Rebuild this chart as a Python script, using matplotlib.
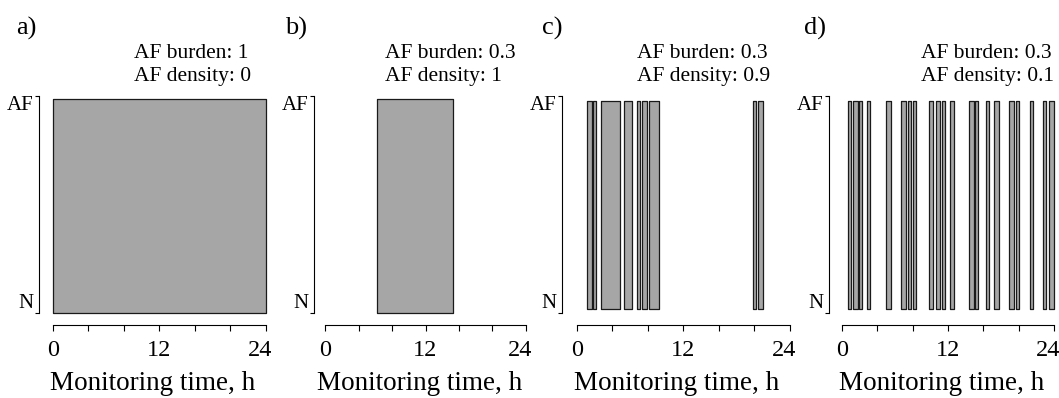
import matplotlib
matplotlib.use("Agg")
import matplotlib.pyplot as plt
from matplotlib.transforms import ScaledTranslation

plt.rcParams['font.family'] = ['Liberation Serif', 'DejaVu Serif']

# AF episodes (start, end) in hours for each panel
panels = ['a)', 'b)', 'c)', 'd)']
burden = ['1', '0.3', '0.3', '0.3']
density = ['0', '1', '0.9', '0.1']

af_a = [(0.0, 24.0)]
af_b = [(6.2, 15.3)]
af_c = [(1.19, 1.69), (1.87, 2.20), (2.77, 4.90), (5.29, 6.22), (6.82, 7.16),
        (7.38, 7.91), (8.17, 9.26), (19.80, 20.14), (20.40, 20.96)]
af_d = [(0.71, 1.05), (1.24, 1.81), (1.92, 2.24), (2.80, 3.14), (5.03, 5.51),
        (6.73, 7.24), (7.48, 7.79), (8.05, 8.35), (9.86, 10.36), (10.59, 11.15),
        (11.35, 11.66), (12.23, 12.73), (14.39, 14.88), (15.10, 15.39),
        (16.31, 16.63), (17.22, 17.72), (18.89, 19.42), (19.68, 19.98),
        (21.26, 21.54), (22.75, 23.03), (23.44, 23.97)]
episodes = [af_a, af_b, af_c, af_d]

xticks = [0, 4, 8, 12, 16, 20, 24]
xticklabels = ['0', '', '', '12', '', '', '24']

W, H = 1059, 398
fig = plt.figure(figsize=(W / 100, H / 100), dpi=100)

# pixel layout: y-axis line, x=0, x=24, text left
spine_px = [39.3, 314.3, 562.3, 829.3]
x0_px = [52.7, 325.3, 576.7, 841.7]
x24_px = [266.0, 525.7, 790.0, 1054.3]
text_px = [134, 385, 637, 921]
letter_px = [16, 285, 542, 804]

y1_px, y0_px, axis_px = 96.0, 313.3, 324.5
yscale = y0_px - y1_px
ylow = -(axis_px - y0_px) / yscale

for i in range(4):
    sc = (x24_px[i] - x0_px[i]) / 24
    xlow = -(x0_px[i] - spine_px[i]) / sc
    ax = fig.add_axes([spine_px[i] / W, 1 - axis_px / H,
                       (x24_px[i] - spine_px[i]) / W, (axis_px - y1_px) / H])
    ax.set_xlim(xlow, 24)
    ax.set_ylim(ylow, 1)

    if i < 2:
        yb, hb = 0.0, 0.985
    else:
        yb, hb = 0.02, 0.955
    ax.broken_barh([(s, e - s) for s, e in episodes[i]], (yb, hb),
                   facecolor='#a6a6a6', edgecolor='#1a1a1a', linewidth=0.9,
                   clip_on=False)

    for s in ['top', 'right']:
        ax.spines[s].set_visible(False)
    ax.spines['left'].set_bounds(0, 1)
    ax.spines['bottom'].set_bounds(0, 24)
    ax.spines['left'].set_linewidth(0.8)
    ax.spines['bottom'].set_linewidth(0.8)

    ax.set_xticks(xticks)
    ax.set_xticklabels(xticklabels, fontsize=17.5)
    ax.tick_params(axis='x', length=4.5, width=0.8, pad=7)
    ax.set_yticks([0, 1])
    ax.set_yticklabels(['N', 'AF'], fontsize=15)
    ax.tick_params(axis='y', length=3, width=0.8, pad=1)
    labs = ax.get_yticklabels()
    labs[0].set_va('bottom')
    labs[1].set_va('top')

    # shift the last "24" a little left so it fits in the figure
    last = ax.get_xticklabels()[-1]
    last.set_transform(last.get_transform() +
                       ScaledTranslation(-6 / 100, 0, fig.dpi_scale_trans))

    ax.set_xlabel('Monitoring time, h', fontsize=19.5, labelpad=7)

    fig.text(letter_px[i] / W, 1 - 17 / H, panels[i], fontsize=19, va='top', ha='left')
    fig.text(text_px[i] / W, 1 - 58 / H, 'AF burden: ' + burden[i],
             fontsize=15.5, va='baseline', ha='left')
    fig.text(text_px[i] / W, 1 - 81 / H, 'AF density: ' + density[i],
             fontsize=15.5, va='baseline', ha='left')

fig.savefig('out.png', dpi=100)
